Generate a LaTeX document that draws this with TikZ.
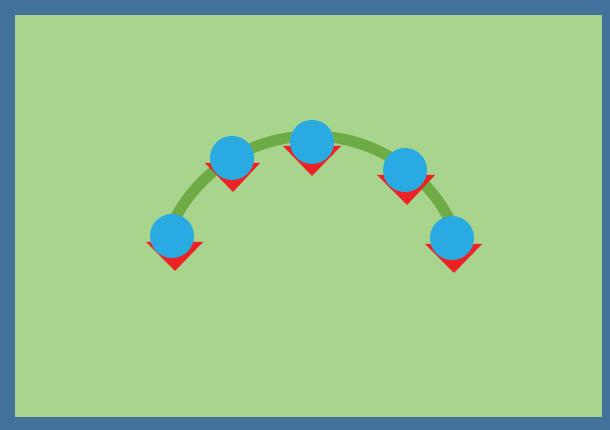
\documentclass[tikz,border=0pt]{standalone}
\usetikzlibrary{calc}
\definecolor{frameblue}{HTML}{44709C}
\definecolor{bggreen}{HTML}{A8D48D}
\definecolor{arcgreen}{HTML}{6DAC45}
\definecolor{ballblue}{HTML}{29ABE2}
\definecolor{trired}{HTML}{EC2227}
\begin{document}
\begin{tikzpicture}[x=1pt,y=-1pt,
  ball/.style={circle,fill=ballblue,draw=none,minimum size=44pt,inner sep=0pt},
  tri/.style={fill=trired,draw=none}]
\useasboundingbox (0,0) rectangle (610,430);
\fill[frameblue] (0,0) rectangle (610,430);
\fill[bggreen] (15,15) rectangle (602,417);
% arc
\coordinate (arcc) at (312,291);
\draw[arcgreen,line width=11pt] ($(arcc)+(-157:155)$) arc[start angle=-157,end angle=-23,radius=155];
% triangles
\fill[tri] (146,242) -- (203,242) -- (175,271) -- cycle;
\fill[tri] (205,163) -- (260,163) -- (233,192) -- cycle;
\fill[tri] (283,146) -- (341,146) -- (312,176) -- cycle;
\fill[tri] (377,175) -- (435,175) -- (407,205) -- cycle;
\fill[tri] (425,244) -- (482,244) -- (454,273) -- cycle;
% balls
\node[ball] (c1) at (172,236) {};
\node[ball] (c2) at (232,158) {};
\node[ball] (c3) at (312,142) {};
\node[ball] (c4) at (405,170) {};
\node[ball] (c5) at (452,238) {};
\end{tikzpicture}
\end{document}
